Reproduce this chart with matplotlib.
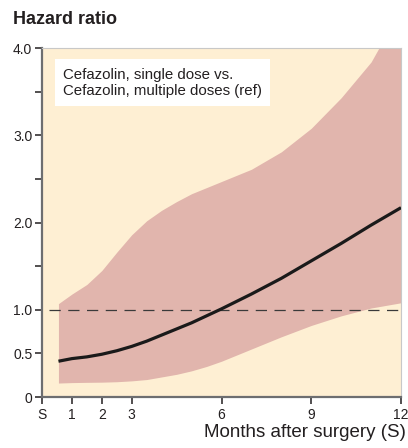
import matplotlib
matplotlib.use("Agg")
import matplotlib.pyplot as plt

plt.rcParams['font.family'] = ['Liberation Sans', 'DejaVu Sans']

# months after surgery and hazard ratio estimates
months = [0.55, 1, 1.5, 2, 2.5, 3, 3.5, 4, 4.5, 5, 5.5, 6, 7, 8, 9, 10, 11, 12]
hr = [0.41, 0.44, 0.46, 0.49, 0.53, 0.58, 0.64, 0.71, 0.78, 0.85, 0.93, 1.01,
      1.18, 1.36, 1.56, 1.76, 1.97, 2.17]
ci_low = [0.16, 0.165, 0.168, 0.17, 0.175, 0.185, 0.20, 0.23, 0.26, 0.30, 0.35,
          0.41, 0.55, 0.69, 0.82, 0.93, 1.02, 1.08]
ci_high = [1.07, 1.18, 1.29, 1.45, 1.66, 1.86, 2.02, 2.14, 2.24, 2.33, 2.40,
           2.47, 2.61, 2.81, 3.08, 3.43, 3.84, 4.45]

xticks = [0, 1, 2, 3, 6, 9, 12]
xticklabels = ['S', '1', '2', '3', '6', '9', '12']
yticks = [0, 0.5, 1.0, 1.5, 2.0, 2.5, 3.0, 3.5, 4.0]
yticklabels = ['0', '0.5', '1.0', '', '2.0', '', '3.0', '', '4.0']

txt = '#231f20'
fig = plt.figure(figsize=(4.08, 4.48), dpi=100)
ax = fig.add_axes([42 / 408, 51 / 448, 359 / 408, 349 / 448])
ax.set_facecolor('#feefd3')

ax.fill_between(months, ci_low, ci_high, color='#e1b5ad', lw=0, zorder=1)
ax.axhline(1.0, xmin=7 / 359, color='#3a3a3a', lw=0.9, dashes=(9, 6), zorder=2)
ax.plot(months, hr, color='#1a1a1a', lw=2.3, solid_capstyle='butt', zorder=3)

ax.set_xlim(0, 12)
ax.set_ylim(0, 4.0)
ax.set_xticks(xticks)
ax.set_xticklabels(xticklabels)
ax.set_yticks(yticks)
ax.set_yticklabels(yticklabels)
ax.tick_params(axis='both', colors=txt, labelsize=10, length=5, width=1.1, pad=2)
ax.tick_params(axis='x', pad=3)

for s in ['left', 'bottom']:
    ax.spines[s].set_color('#6d6e70')
    ax.spines[s].set_linewidth(1.6)
for s in ['top', 'right']:
    ax.spines[s].set_color('#c8c8c8')
    ax.spines[s].set_linewidth(0.8)

ax.text(0.058, 0.944, 'Cefazolin, single dose vs.\nCefazolin, multiple doses (ref)',
        transform=ax.transAxes, ha='left', va='top', fontsize=10.8, color=txt,
        linespacing=1.2,
        bbox=dict(boxstyle='square,pad=0.55', fc='white', ec='none'))

fig.text(13 / 408, 1 - 20 / 448, 'Hazard ratio', ha='left', va='center',
         fontsize=13, fontweight='bold', color=txt)
fig.text(406 / 408, 1 - 432 / 448, 'Months after surgery (S)', ha='right',
         va='center', fontsize=13.5, color=txt)

fig.savefig('out.png', dpi=100)
